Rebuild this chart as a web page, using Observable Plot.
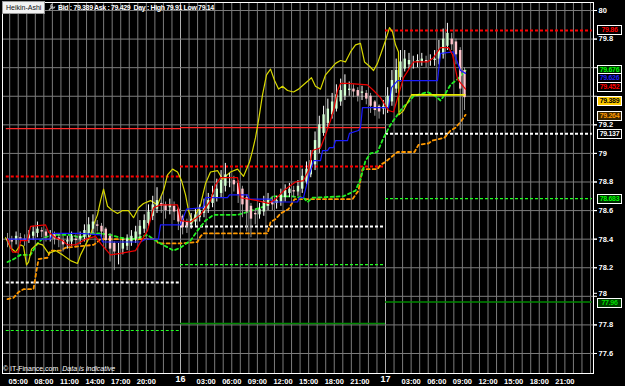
<!DOCTYPE html>
<html><head><meta charset="utf-8">
<script src="https://cdn.jsdelivr.net/npm/d3@7"></script>
<script src="https://cdn.jsdelivr.net/npm/@observablehq/plot@0.6"></script>
<style>
html,body{margin:0;padding:0;background:#000;}
#wrap{position:relative;width:625px;height:386px;overflow:hidden;background:#000;font-family:"Liberation Sans",Arial,sans-serif;}
#wrap svg{position:absolute;left:0;top:0;}
.t{position:absolute;white-space:nowrap;font-size:7px;font-weight:bold;color:#fff;line-height:1;letter-spacing:-0.35px;}
.tag{position:absolute;left:597px;width:23px;height:8px;border:1px solid #fff;font-size:7px;font-weight:bold;line-height:8px;text-align:center;box-sizing:content-box;letter-spacing:-0.3px;}
</style></head><body><div id="wrap"></div><script>
// ---- data (time in hours from day 15 00:00, prices in JPY) ----
const closes=[78.39,78.38,78.42,78.40,78.39,78.43,78.45,78.47,78.45,78.42,
78.43,78.40,78.39,78.36,78.39,78.42,78.39,78.42,78.46,78.50,
78.52,78.49,78.45,78.39,78.33,78.31,78.33,78.37,78.40,78.42,
78.45,78.49,78.53,78.59,78.64,78.67,78.63,78.60,78.64,78.59,
78.52,78.48,78.49,78.54,78.57,78.60,78.63,78.67,78.71,78.75,
78.81,78.85,78.81,78.78,78.71,78.64,78.59,78.54,78.57,78.61,
78.66,78.68,78.64,78.67,78.71,78.74,78.75,78.73,78.77,78.84,
78.89,78.95,79.09,79.20,79.27,79.31,79.36,79.41,79.44,79.48,
79.45,79.43,79.40,79.43,79.38,79.33,79.30,79.29,79.33,79.40,
79.51,79.58,79.64,79.66,79.65,79.64,79.65,79.66,79.64,79.65,
79.66,79.72,79.80,79.84,79.76,79.69,79.45,79.39];
const opens=[78.40,78.39,78.39,78.41,78.40,78.40,78.42,78.44,78.46,78.45,
78.43,78.43,78.41,78.39,78.38,78.38,78.40,78.40,78.41,78.44,
78.47,78.50,78.49,78.47,78.42,78.37,78.33,78.33,78.35,78.38,
78.40,78.43,78.47,78.51,78.56,78.61,78.65,78.64,78.62,78.63,
78.61,78.56,78.52,78.50,78.52,78.55,78.58,78.61,78.65,78.69,
78.72,78.77,78.81,78.81,78.79,78.75,78.69,78.63,78.58,78.57,
78.59,78.63,78.66,78.65,78.66,78.69,78.72,78.74,78.73,78.75,
78.80,78.85,78.92,79.03,79.14,79.21,79.27,79.31,79.36,79.40,
79.44,79.45,79.44,79.42,79.42,79.40,79.36,79.33,79.31,79.32,
79.36,79.45,79.53,79.59,79.62,79.64,79.64,79.64,79.65,79.65,
79.65,79.66,79.69,79.75,79.80,79.78,79.72,79.58];
const highs=[78.44,78.42,78.45,78.44,78.43,78.46,78.49,78.52,78.48,78.47,
78.46,78.45,78.44,78.42,78.42,78.45,78.43,78.45,78.50,78.55,
78.57,78.53,78.51,78.48,78.44,78.38,78.37,78.40,78.43,78.46,
78.49,78.53,78.57,78.64,78.70,78.76,78.70,78.66,78.68,78.66,
78.62,78.57,78.54,78.58,78.61,78.64,78.68,78.72,78.77,78.82,
78.88,78.93,78.86,78.84,78.81,78.77,78.71,78.65,78.61,78.65,
78.70,78.72,78.70,78.70,78.75,78.78,78.79,78.77,78.81,78.89,
78.94,79.02,79.15,79.26,79.33,79.38,79.42,79.48,79.52,79.55,
79.50,79.48,79.46,79.47,79.44,79.42,79.37,79.34,79.37,79.46,
79.58,79.66,79.72,79.72,79.70,79.68,79.69,79.70,79.68,79.69,
79.72,79.79,79.87,79.91,79.84,79.80,79.74,79.60];
const lows=[78.34,78.33,78.36,78.37,78.35,78.37,78.39,78.41,78.41,78.38,
78.38,78.36,78.34,78.31,78.33,78.35,78.35,78.36,78.38,78.41,
78.44,78.45,78.41,78.33,78.24,78.18,78.22,78.29,78.32,78.35,
78.37,78.40,78.44,78.48,78.53,78.58,78.58,78.54,78.57,78.53,
78.46,78.43,78.44,78.47,78.49,78.52,78.55,78.58,78.62,78.66,
78.69,78.73,78.76,78.73,78.65,78.55,78.45,78.41,78.50,78.54,
78.56,78.60,78.60,78.61,78.63,78.66,78.69,78.69,78.70,78.72,
78.78,78.83,78.88,79.00,79.12,79.18,79.24,79.29,79.33,79.37,
79.40,79.39,79.36,79.37,79.34,79.28,79.26,79.24,79.27,79.28,
79.33,79.42,79.50,79.57,79.59,79.59,79.60,79.61,79.60,79.61,
79.61,79.62,79.66,79.72,79.72,79.62,79.16,79.30];
const firstBarHour=3.75, barHours=0.5;

// indicator lines: [hour, price]
const redLine=[[3.75,78.40],[4.33,78.31],[5.04,78.31],[5.27,78.39],[6.09,78.39],[6.44,78.49],[8.20,78.50],[8.55,78.45],[9.37,78.41],[10.19,78.39],[10.77,78.36],[11.71,78.36],[12.88,78.40],[14.05,78.42],[14.64,78.37],[15.81,78.29],[16.98,78.30],[18.73,78.32],[20.14,78.46],[20.84,78.62],[21.66,78.64],[23.65,78.64],[24.00,78.53],[25.17,78.52],[26.34,78.57],[27.51,78.67],[28.10,78.78],[28.68,78.83],[30.68,78.83],[31.02,78.69],[33.02,78.67],[34.30,78.65],[35.12,78.68],[36.29,78.75],[37.46,78.80],[38.40,78.81],[38.98,78.88],[39.45,79.02],[40.39,79.04],[40.98,79.13],[41.56,79.23],[41.91,79.30],[42.38,79.44],[42.73,79.49],[43.55,79.49],[45.89,79.48],[46.60,79.44],[47.41,79.39],[48.35,79.30],[48.94,79.29],[50.11,79.53],[51.28,79.64],[52.92,79.64],[53.62,79.67],[54.44,79.74],[55.38,79.74],[55.85,79.69],[56.43,79.52],[57.37,79.45]];
const blueLine=[[3.75,78.40],[8.78,78.40],[9.02,78.44],[12.30,78.44],[14.64,78.43],[14.87,78.38],[19.32,78.38],[19.90,78.40],[21.42,78.40],[21.66,78.50],[24.00,78.50],[24.70,78.61],[26.69,78.62],[26.93,78.69],[29.50,78.69],[29.74,78.71],[31.84,78.71],[32.08,78.68],[34.54,78.68],[34.77,78.66],[37.70,78.66],[37.93,78.69],[38.40,78.69],[38.98,78.83],[39.57,78.95],[40.39,78.95],[40.63,79.02],[41.21,79.02],[41.44,79.04],[41.91,79.04],[42.15,79.09],[43.55,79.09],[43.78,79.14],[44.83,79.16],[45.07,79.18],[45.30,79.32],[48.35,79.32],[48.70,79.46],[49.41,79.51],[54.09,79.51],[54.44,79.70],[55.96,79.71],[56.78,79.58],[57.37,79.56]];
const greenLine=[[3.75,78.24],[4.45,78.26],[5.27,78.29],[6.44,78.29],[7.26,78.37],[7.96,78.41],[9.13,78.43],[11.12,78.43],[12.30,78.41],[13.11,78.44],[14.64,78.44],[15.81,78.43],[16.98,78.41],[18.50,78.40],[20.14,78.43],[20.84,78.40],[21.66,78.37],[23.18,78.32],[24.00,78.34],[25.17,78.39],[25.99,78.46],[26.93,78.53],[27.86,78.57],[30.68,78.57],[31.84,78.59],[32.78,78.61],[33.95,78.63],[34.77,78.70],[36.88,78.70],[38.40,78.69],[38.87,78.66],[39.45,78.69],[43.08,78.70],[44.49,78.74],[45.07,78.82],[45.66,78.95],[46.24,79.00],[47.06,79.01],[47.77,79.11],[48.58,79.20],[49.17,79.25],[49.99,79.32],[50.69,79.36],[51.28,79.40],[52.92,79.43],[53.86,79.40],[54.44,79.37],[55.03,79.42],[55.61,79.48],[56.43,79.52],[57.37,79.58]];
const orangeLine=[[3.75,77.98],[4.45,77.99],[5.04,78.03],[5.62,78.05],[6.79,78.05],[7.14,78.18],[7.38,78.26],[8.43,78.27],[8.78,78.32],[9.95,78.32],[10.54,78.34],[13.82,78.36],[14.28,78.38],[14.64,78.40],[21.07,78.40],[21.42,78.37],[24.00,78.37],[25.99,78.38],[26.34,78.42],[26.69,78.44],[34.19,78.44],[34.54,78.52],[35.12,78.54],[35.71,78.58],[36.64,78.61],[37.35,78.68],[38.05,78.68],[44.14,78.68],[44.84,78.74],[45.30,78.89],[47.06,78.89],[47.41,78.92],[47.99,78.94],[48.58,78.97],[49.41,79.01],[51.40,79.01],[51.86,79.06],[53.03,79.07],[53.50,79.09],[54.91,79.11],[55.61,79.16],[56.19,79.18],[56.78,79.22],[57.37,79.27]];
const yellowLine=[[3.52,78.41],[4.10,78.34],[4.69,78.31],[5.27,78.36],[5.62,78.35],[5.97,78.22],[6.21,78.24],[6.56,78.33],[7.26,78.37],[7.85,78.36],[8.55,78.30],[9.37,78.32],[10.19,78.29],[11.12,78.25],[11.94,78.23],[12.30,78.29],[12.88,78.36],[13.47,78.43],[13.82,78.50],[14.28,78.57],[14.64,78.67],[14.99,78.75],[15.46,78.63],[16.04,78.60],[16.63,78.58],[17.21,78.60],[17.91,78.60],[18.50,78.55],[19.09,78.62],[19.67,78.65],[20.49,78.67],[21.31,78.64],[22.01,78.74],[22.48,78.85],[23.07,78.89],[23.65,78.87],[24.12,78.81],[24.59,78.71],[24.94,78.60],[25.41,78.52],[25.76,78.57],[26.34,78.64],[26.93,78.79],[27.51,78.87],[28.33,78.88],[28.92,78.82],[29.85,78.87],[30.68,78.89],[31.38,78.84],[32.08,78.94],[32.43,79.02],[32.78,79.11],[33.13,79.23],[33.60,79.41],[34.07,79.55],[34.54,79.59],[35.01,79.51],[35.48,79.45],[35.94,79.47],[36.53,79.44],[37.23,79.43],[37.82,79.45],[38.40,79.48],[38.98,79.51],[39.33,79.53],[39.80,79.47],[40.39,79.45],[40.98,79.55],[41.56,79.59],[42.15,79.63],[42.73,79.65],[43.31,79.64],[43.90,79.71],[44.49,79.76],[45.07,79.77],[45.54,79.64],[46.13,79.61],[46.60,79.58],[47.06,79.63],[47.53,79.71],[48.00,79.79],[48.47,79.88],[48.82,79.85],[49.17,79.76],[49.52,79.71],[49.57,79.27],[50.11,79.30],[50.69,79.37],[51.05,79.41],[57.37,79.41]];

// daily levels
const levelPrice=[79.174,78.838,78.097,77.761, 79.181,78.908,78.488,78.222,77.810, 79.86,79.137,78.683,77.96];
const levelStart=[3.6,3.6,3.6,3.6, 24,24,24,24,24, 48,48,48,48];
const levelEnd=[24,24,24,24, 48,48,48,48,48, 72.2,72.2,72.2,72.2];
const levelKind=["rs","rd","wd","gd", "rs","rd","wd","gd","gs", "rd","wd","gd","gs"];

// axes
const priceTicks=[77.6,77.8,78,78.2,78.4,78.6,78.8,79,79.2,79.4,79.6,79.8,80];
const priceLabelled=[77.6,77.8,78.2,78.4,78.6,78.8,79,79.2,79.8,80];
const priceLabelledRaised=[78];
const timeTicks=[5,8,11,14,17,20,27,30,33,36,39,42,45,51,54,57,60,63,66,69];
const dayTicks=[24,48], dayLabels=["16","17"];

// right-hand value tags (display price = where the stacked tag sits)
const tagText=["79.86","79.676","79.626","79.452","79.389","79.264","79.137","78.683","77.96"];
const tagAt=[79.860,79.580,79.521,79.458,79.363,79.255,79.132,78.681,77.950];
const tagFg=["#ff0000","#00ff00","#2020ff","#ff0000","#000000","#ff9900","#ffffff","#00ff00","#00dd00"];
const tagBg=["#000","#002800","#000","#000","#ffcc00","#3a2600","#000","#002800","#003a00"];

// ---- build ----
const bars=closes.map((c,i)=>({t:firstBarHour+barHours*i,o:opens[i],c,h:highs[i],l:lows[i],up:c>=opens[i]}));
const pts=a=>a.map(([t,p])=>({t,p}));
const styles={rs:{stroke:"#ff2a2a",dash:null,w:1.2},rd:{stroke:"#ff0000",dash:"3,2",w:2},wd:{stroke:"#ffffff",dash:"3,2",w:2},gd:{stroke:"#22ff22",dash:"3,2",w:1.2},gs:{stroke:"#008800",dash:null,w:1.5}};
const levels=levelPrice.map((p,i)=>({p,t1:levelStart[i],t2:levelEnd[i],k:levelKind[i]}));
const hours=d3.range(4,73);
const fmtT=h=>String(h%24).padStart(2,"0")+":00";
const fmtP=p=>String(+p.toFixed(1));

const marks=[
  Plot.ruleX(hours,{x:d=>d,stroke:"#7c7c7c",strokeWidth:1}),
  Plot.ruleX(dayTicks,{x:d=>d,stroke:"#b0b0b0",strokeWidth:1}),
  Plot.ruleY(priceTicks,{y:d=>d,stroke:"#7c7c7c",strokeWidth:1}),
];
for(const k of Object.keys(styles)){
  const s=styles[k];
  marks.push(Plot.ruleY(levels.filter(d=>d.k===k),{y:"p",x1:"t1",x2:"t2",stroke:s.stroke,strokeWidth:s.w,strokeDasharray:s.dash}));
}
marks.push(
  Plot.line(pts(orangeLine),{x:"t",y:"p",stroke:"#ff9900",strokeWidth:1.8,strokeDasharray:"3,3"}),
  Plot.line(pts(greenLine),{x:"t",y:"p",stroke:"#22ee22",strokeWidth:1.8,strokeDasharray:"3,3"}),
  Plot.line(pts(yellowLine),{x:"t",y:"p",stroke:"#d8d800",strokeWidth:1.2}),
  Plot.ruleX(bars,{x:"t",y1:"l",y2:"h",stroke:d=>d.up?"#ffffff":"#9a9a9a",strokeWidth:1}),
  Plot.ruleX(bars,{x:"t",y1:"o",y2:"c",stroke:d=>d.up?"#d2ffd2":"#ffc4cc",strokeWidth:2.4}),
  Plot.line(pts(blueLine),{x:"t",y:"p",stroke:"#1a1aff",strokeWidth:1.2}),
  Plot.line(pts(redLine),{x:"t",y:"p",stroke:"#ee0000",strokeWidth:1.2}),
  Plot.ruleY([79.41],{y:d=>d,x1:51.05,x2:57.37,stroke:"#ffff00",strokeWidth:1.2}),
  Plot.axisY(priceTicks,{anchor:"right",tickSize:3,tickPadding:2,stroke:"#fff",text:null}),
  Plot.axisY(priceLabelled,{anchor:"right",tickSize:3,tickPadding:2,stroke:"#fff",fill:"#fff",fontSize:7.5,fontWeight:"bold",tickFormat:fmtP,style:{letterSpacing:"-0.3px"}}),
  Plot.axisY(priceLabelledRaised,{anchor:"right",tickSize:3,tickPadding:2,dy:-3,stroke:"#fff",fill:"#fff",fontSize:7.5,fontWeight:"bold",tickFormat:fmtP,style:{letterSpacing:"-0.3px"}}),
  Plot.axisX(timeTicks,{anchor:"bottom",tickSize:0,tickPadding:5,fill:"#fff",fontSize:7.5,fontWeight:"bold",tickFormat:fmtT,style:{letterSpacing:"-0.4px"}}),
  Plot.text(dayTicks,{x:d=>d,frameAnchor:"bottom",dy:8,text:(d,i)=>dayLabels[i],fill:"#fff",fontSize:9,fontWeight:"bold"}),
  Plot.frame({stroke:"#fff",strokeWidth:1})
);

const chart=Plot.plot({
  width:625,height:386,
  marginLeft:2,marginRight:32,marginTop:2,marginBottom:13,
  style:{background:"#000",color:"#fff",fontFamily:"'Liberation Sans',Arial,sans-serif"},
  x:{type:"linear",domain:[3.16,72.35]},
  y:{type:"linear",domain:[77.46,80.056]},
  marks
});
const wrap=document.getElementById("wrap");
wrap.appendChild(chart);

// header and footer text
function addText(html,left,top,extra){const d=document.createElement("div");d.className="t";d.innerHTML=html;d.style.left=left+"px";d.style.top=top+"px";if(extra)Object.assign(d.style,extra);wrap.appendChild(d);return d;}
addText("Heikin-Ashi",2,1,{background:"#f2f2f2",color:"#111",padding:"2px 3px",border:"1px solid #999",fontWeight:"normal",letterSpacing:"0"});
const icon=document.createElementNS("http://www.w3.org/2000/svg","svg");
icon.setAttribute("width","10");icon.setAttribute("height","10");
icon.style.cssText="position:absolute;left:47px;top:2px";
icon.innerHTML='<path d="M2 8 L6 4 M5.5 2.2 a2 2 0 1 0 2.3 2.3" stroke="#bbb" stroke-width="1.3" fill="none"/>';
wrap.appendChild(icon);
addText("Bid : 79.389 Ask : 79.429 &nbsp;Day : High 79.91 Low 79.14",58,4);
addText("&copy; IT-Finance.com &nbsp;<i>Data is indicative</i>",3,365,{fontWeight:"normal",letterSpacing:"0"});

// value tags on the right
const ys=chart.scale("y");
tagText.forEach((t,i)=>{
  const d=document.createElement("div");d.className="tag";d.textContent=t;
  d.style.top=(ys.apply(tagAt[i])-5)+"px";d.style.color=tagFg[i];d.style.background=tagBg[i];
  wrap.appendChild(d);
});
</script></body></html>
